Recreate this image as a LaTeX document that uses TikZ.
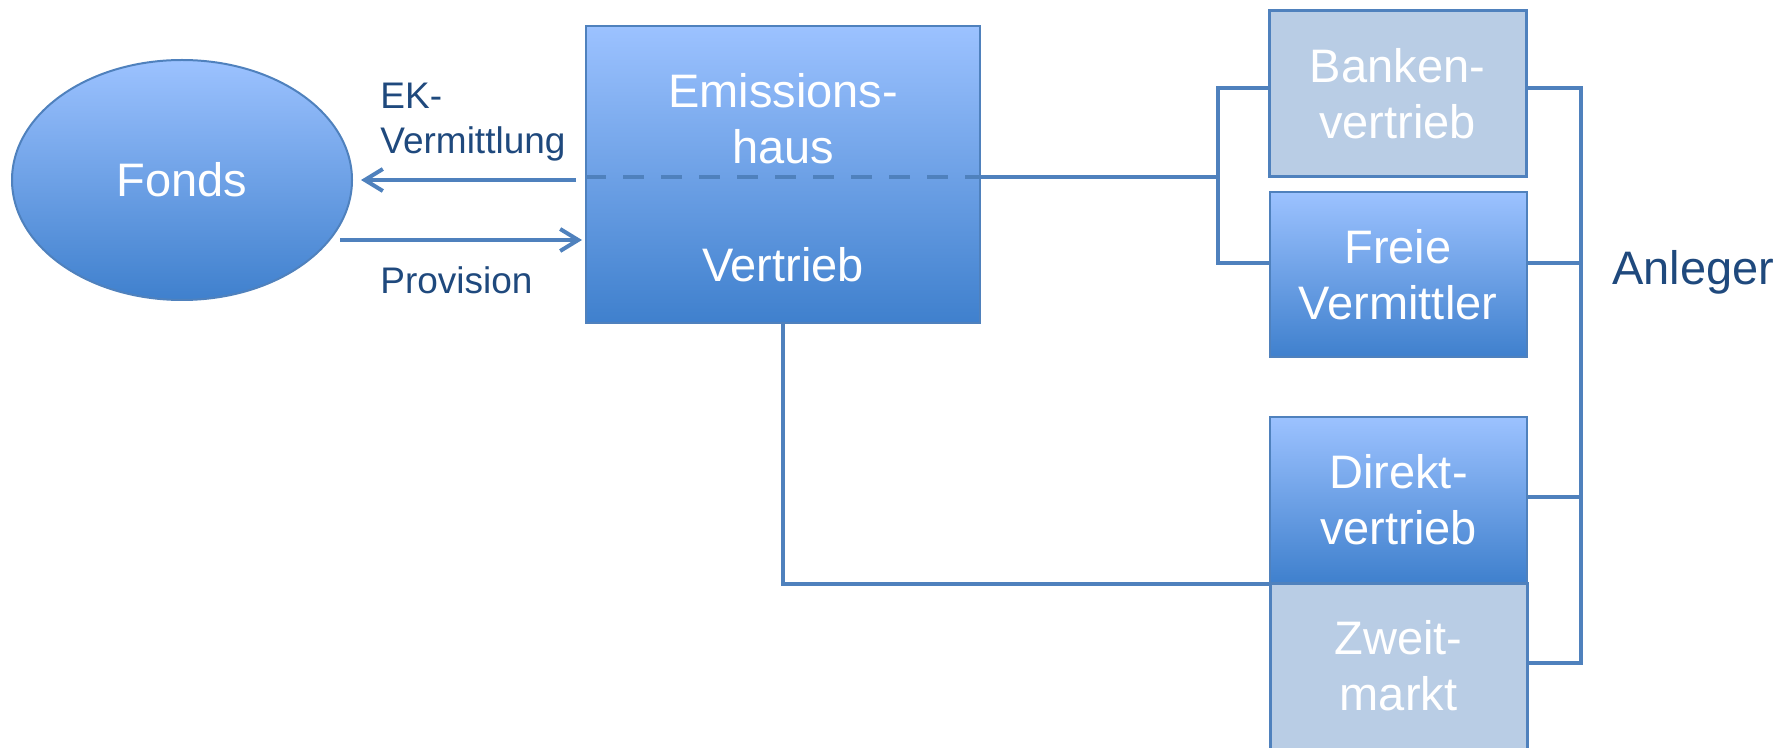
\documentclass[tikz,border=0pt]{standalone}
\usepackage{fontspec}
\setmainfont{Liberation Sans}
\usetikzlibrary{arrows.meta,shapes.geometric}
\definecolor{linie}{RGB}{79,129,189}
\definecolor{hell}{RGB}{156,194,255}
\definecolor{dunkel}{RGB}{63,128,205}
\definecolor{grau}{RGB}{185,205,229}
\definecolor{schrift}{RGB}{31,73,125}
\begin{document}
\begin{tikzpicture}[x=0.5pt, y=-0.5pt, font=\fontsize{23.5}{28}\selectfont,
  kasten/.style={draw=linie, line width=1pt, top color=hell, bottom color=dunkel,
    text=white, align=center, inner sep=0pt},
  blass/.style={draw=linie, line width=1.5pt, fill=grau, text=white,
    align=center, inner sep=0pt, minimum width=128.5pt, minimum height=83pt},
  verb/.style={draw=linie, line width=2pt},
  pfeil/.style={verb, -{Straight Barb[length=9pt,width=11pt,line width=2pt]}},
  beschr/.style={text=schrift, align=left, inner sep=0pt,
    font=\fontsize{18.5}{22.5}\selectfont}]
\useasboundingbox (0,0) rectangle (1791,748);
%fonds
\node[ellipse, kasten, minimum width=170pt, minimum height=120pt] (fonds) at (182,180) {Fonds};
%emissionshaus
\node[kasten, minimum width=197pt, minimum height=148.5pt] (haus) at (783,174.5) {};
\node[text=white, align=center, inner sep=0pt] (emi) at (783,119) {Emissions-\\haus};
\node[text=white, inner sep=0pt] (vertrieb) at (783,265) {Vertrieb};
\coordinate (trenn) at (0,177);
\draw[verb, dash pattern=on 10.5pt off 8.5pt] (haus.west |- trenn) -- (haus.east |- trenn);
%arrows
\draw[pfeil] ([xshift=-4.5pt]haus.west |- fonds) -- ([xshift=4pt]fonds.east);
\coordinate (prov) at (340,240);
\draw[pfeil] (prov) -- ([xshift=-1.5pt]haus.west |- prov);
\node[beschr, anchor=west] (ek) at (380,122) {EK-\\Vermittlung};
\node[beschr, anchor=west] (provtext) at (380,280) {Provision};
%vertriebswege
\node[blass] (banken) at (1397.5,94) {Banken-\\vertrieb};
\node[kasten, minimum width=128.5pt, minimum height=82.5pt] (freie) at (1398,274.5) {Freie\\Vermittler};
\node[kasten, minimum width=128.5pt, minimum height=83pt] (direkt) at (1398.5,500) {Direkt-\\vertrieb};
\node[blass] (zweit) at (1398.5,666) {Zweit-\\markt};
%lines
\coordinate (g1) at (1218,88);
\coordinate (g2) at (1218,263);
\draw[verb] (haus.east |- trenn) -- (g1 |- trenn);
\draw[verb] (g1 -| banken.west) -- (g1) -- (g2) -- (g2 -| freie.west);
\draw[verb] (haus.south) |- (direkt.south west);
\coordinate (b1) at (1581,88);
\coordinate (b2) at (1581,263);
\coordinate (b3) at (1581,497);
\coordinate (b4) at (1581,663);
\draw[verb] (b1 -| banken.east) -- (b1) -- (b4) -- (b4 -| zweit.east);
\draw[verb] (b2 -| freie.east) -- (b2);
\draw[verb] (b3 -| direkt.east) -- (b3);
%anleger
\node[text=schrift, anchor=west, inner sep=0pt] (anleger) at (1612,272) {Anleger};
\end{tikzpicture}
\end{document}
